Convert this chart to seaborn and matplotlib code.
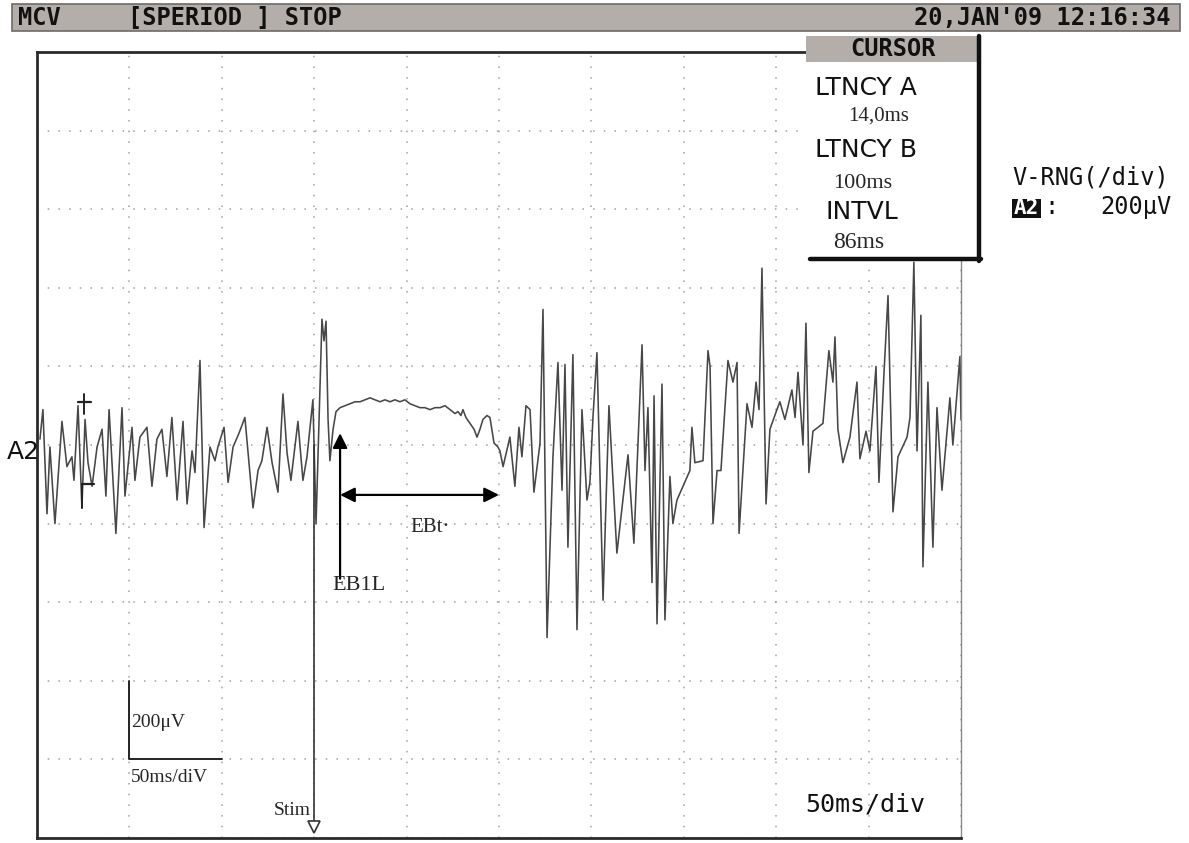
import numpy as np
import pandas as pd
import matplotlib
matplotlib.use("Agg")
import matplotlib.pyplot as plt
import seaborn as sns
from matplotlib.patches import Rectangle

# ---- Recording settings ----
sweep_ms = 500
ms_per_div = 50
uv_per_div = 200
stim_ms = 150
latency_a_ms = 14.0
latency_b_ms = 100
interval_ms = 86

# ---- A2 channel trace (ms, µV) ----
time_ms = [
    1.6, 3.2, 5.4, 7.0, 9.7, 13.5, 16.2, 18.9, 20.0, 22.2, 24.3, 26.0, 27.6, 29.8,
    32.5, 35.2, 37.3, 39.0, 42.7, 46.0, 47.6, 51.4, 53.0, 55.7, 59.5, 62.2, 64.9,
    67.6, 70.3, 73.0, 75.8, 79.0, 81.2, 83.9, 85.5, 88.2, 90.4, 93.6, 96.3, 97.9,
    101.2, 103.4, 106.1, 109.3, 112.5, 114.7, 116.9, 119.6, 121.7, 124.5, 127.2,
    130.4, 133.1, 135.3, 137.4, 141.2, 143.9, 146.1, 149.3, 151.0, 153.1, 154.2,
    155.3, 156.4, 157.5, 158.5, 160.2, 161.8,
    164.0, 166.7, 169.4, 172.1, 174.8, 177.5, 180.2, 182.9, 185.6, 188.3, 191.0,
    193.7, 196.4, 199.1, 201.8, 204.5, 207.2, 209.9, 212.7, 215.4, 218.1, 220.8,
    223.5, 226.2, 227.8, 229.4, 230.5, 232.1, 234.3, 236.5, 238.1, 239.7, 241.3,
    243.5, 245.1, 247.3, 249.4, 250.5,
    252.2, 255.9, 258.6, 260.8, 262.4, 264.6, 266.8, 268.9, 272.2, 273.8, 276.0,
    279.2, 281.9, 284.1, 285.7, 287.3, 290.0, 292.2, 294.9, 297.6, 299.2, 300.9,
    303.0, 306.3, 309.5, 313.8, 319.8, 323.0, 327.4, 329.0, 330.6, 332.8, 333.9,
    335.5, 338.2, 339.8, 342.5, 344.1, 346.3, 353.3, 354.4, 356.0, 360.4, 363.1,
    364.2, 365.8, 368.0, 370.1, 373.9, 376.6, 378.8, 379.9, 384.2, 386.9, 389.1,
    390.7, 392.3, 394.5, 396.6, 400.4, 402.0, 404.7, 408.5, 410.2, 411.8, 414.5,
    416.1, 417.7, 419.9, 425.3, 428.5, 430.7, 431.8, 433.4, 436.1, 439.9, 443.7,
    445.3, 448.6, 450.7, 454.0, 455.6, 458.3, 460.5, 463.2, 465.9, 470.8, 472.4,
    474.5, 476.2, 478.3, 479.4, 482.1, 484.8, 487.0, 489.7, 494.0, 495.6, 499.4,
    500.0,
]
amp_uv = [
    15, 90, -175, -5, -200, 60, -55, -30, -90, 100, -160, 65, -45, -105,
    -5, 40, -130, 90, -225, 95, -130, 45, -90, 20, 45, -105, 15,
    40, -80, 70, -140, 60, -150, -15, -70, 215, -210, -5, -40, -5,
    45, -95, -5, 30, 70, -45, -160, -65, -40, 45, -45,
    -120, 130, -20, -90, 60, -90, -30, 115, -200, 140, 320,
    265, 315, 65, -40, 40, 85,
    95, 100, 105, 110, 110, 115, 120, 115, 110, 115, 110,
    115, 110, 115, 105, 100, 95, 95, 90, 95, 95, 100,
    90, 80, 85, 75, 90, 70, 55, 40, 20, 40, 65,
    75, 70, 5, -5, -15,
    -55, 20, -105, 45, -30, 100, 90, -120, 5, 345, -490,
    -30, 210, -115, 205, -260, 230, -470, 90, -140, -95, 75,
    235, -395, 100, -275, -25, -250, 255, -65, 95, -350, 125,
    -455, 155, -445, -80, -200, -140, -65, 45, -45, -40, 240,
    200, -200, -65, -65, 215, 160, 210, -225, 105, 45, 160,
    90, 450, -150, 40, 90, 110, 65, 140, 70, 185, 0,
    310, -70, 35, 55, 240, 160, 275, 40, -45, 20, 160,
    -35, 35, -15, 200, -95, 180, 380, -170, -30, 20, 70,
    465, -15, 330, -310, 160, -260, 95, -115, 120, 0, 225,
    65,
]

# Cursor markers on the early part of the sweep
cursor_ms = 25
cursor_hi_uv = 110
cursor_lo_uv = -100

df = pd.DataFrame({"t": time_ms, "v": amp_uv})

sns.set_style("white")
plt.rcParams["font.family"] = ["DejaVu Sans"]

W, H = 1189, 843
fig = plt.figure(figsize=(W / 100, H / 100), dpi=100)
fig.patch.set_facecolor("white")

ax = fig.add_axes([37 / W, 5 / H, 924 / W, 786 / H])
sns.lineplot(data=df, x="t", y="v", ax=ax, color="#474747", lw=1.15,
             sort=False, estimator=None)

ax.set_xlim(0, sweep_ms)
ax.set_ylim(-5 * uv_per_div, 5 * uv_per_div)
ax.set_xticks(np.arange(0, sweep_ms + 1, ms_per_div))
ax.set_yticks(np.arange(-5 * uv_per_div, 5 * uv_per_div + 1, uv_per_div))
ax.grid(True, color="#a0a0a0", linestyle=(0, (1, 6)), lw=1.1)
ax.tick_params(length=0, labelbottom=False, labelleft=False)
ax.set_xlabel("")
ax.set_ylabel("")
for side in ("left", "top", "bottom"):
    ax.spines[side].set_color("#2a2a2a")
    ax.spines[side].set_linewidth(2.0)
ax.spines["right"].set_color("#8a8a8a")
ax.spines["right"].set_linewidth(1.0)

serif = ["Liberation Serif", "DejaVu Serif"]

# Cursor markers
ax.plot([cursor_ms - 3, cursor_ms + 4], [cursor_hi_uv, cursor_hi_uv], color="#222", lw=1.6)
ax.plot([cursor_ms + 0.4, cursor_ms + 0.4], [cursor_hi_uv - 30, cursor_hi_uv + 20], color="#222", lw=1.4)
ax.plot([cursor_ms - 0.7, cursor_ms + 6], [cursor_lo_uv, cursor_lo_uv], color="#222", lw=1.6)
ax.plot([cursor_ms - 0.7, cursor_ms - 0.7], [cursor_lo_uv, cursor_lo_uv - 60], color="#222", lw=1.4)

# Stimulus marker
ax.plot([stim_ms, stim_ms], [0, -955], color="#333", lw=1.2)
ax.plot([stim_ms], [-972], marker="v", ms=9, mfc="white", mec="#333", mew=1.2, clip_on=False)
ax.text(stim_ms - 2, -930, "Stim", family=serif, fontsize=14, ha="right", va="center")

# Onset latency (EB1L) and burst duration (EBt)
onset = stim_ms + latency_a_ms
offset = stim_ms + latency_b_ms
ax.annotate("", xy=(onset, 30), xytext=(onset, -340),
            arrowprops=dict(arrowstyle="-|>", color="black", lw=1.6,
                            mutation_scale=22, shrinkA=0, shrinkB=0))
ax.text(onset - 4, -357, "EB1L", family=serif, fontsize=16, ha="left", va="center")
ax.annotate("", xy=(offset, -127), xytext=(onset, -127),
            arrowprops=dict(arrowstyle="<|-|>", color="black", lw=1.6,
                            mutation_scale=22, shrinkA=0, shrinkB=0))
ax.text(onset + interval_ms * 0.44, -209, "EBt\u00b7", family=serif, fontsize=15,
        ha="left", va="center")

# Calibration bar
ax.plot([ms_per_div, ms_per_div, 2 * ms_per_div],
        [-4 * uv_per_div + uv_per_div, -4 * uv_per_div, -4 * uv_per_div],
        color="#222", lw=1.4)
ax.text(ms_per_div + 1, -705, "200\u03bcV", family=serif, fontsize=14, ha="left", va="center")
ax.text(ms_per_div + 1, -845, "50ms/diV", family=serif, fontsize=14, ha="left", va="center")

# ---- Instrument screen overlay (pixel layout) ----
ov = fig.add_axes([0, 0, 1, 1], zorder=5)
ov.set_xlim(0, W)
ov.set_ylim(H, 0)
ov.axis("off")
ov.patch.set_alpha(0)

mono = ["DejaVu Sans Mono"]
narrow = ["DejaVu Sans"]

# Status bar
ov.add_patch(Rectangle((12, 4), 1168, 27, fc="#b4aeab", ec="#6e6a68", lw=1.2))
ov.text(18, 18, "MCV", family=mono, fontsize=17, weight="bold", color="#111", va="center")
ov.text(128, 18, "[SPERIOD ] STOP", family=mono, fontsize=17, weight="bold", color="#111", va="center")
ov.text(1170, 18, "20,JAN'09 12:16:34", family=mono, fontsize=17, weight="bold",
        color="#111", va="center", ha="right")

# Cursor read-out box
ov.add_patch(Rectangle((806, 62), 174, 197, fc="white", ec="none"))
ov.add_patch(Rectangle((806, 36), 172, 26, fc="#b4aeab", ec="none"))
ov.text(893, 49, "CURSOR", family=mono, fontsize=17, weight="bold", color="#111",
        ha="center", va="center")
ov.plot([979, 979], [36, 261], color="#111", lw=3.2)
ov.plot([810, 981], [259, 259], color="#111", lw=3.2)
ov.text(815, 88, "LTNCY A", family=narrow, fontsize=18, ha="left", va="center", color="#111")
ov.text(848, 116, f"{latency_a_ms:.1f}ms".replace(".", ","), family=serif, fontsize=15,
        ha="left", va="center")
ov.text(815, 150, "LTNCY B", family=narrow, fontsize=18, ha="left", va="center", color="#111")
ov.text(833, 183, f"{latency_b_ms}ms", family=serif, fontsize=16, ha="left", va="center")
ov.text(825, 212, "INTVL", family=narrow, fontsize=18, ha="left", va="center", color="#111")
ov.text(833, 242, f"{interval_ms}ms", family=serif, fontsize=17, ha="left", va="center")

# Vertical range read-out
ov.text(1012, 177, "V-RNG(/div)", family=mono, fontsize=17, ha="left", va="center", color="#111")
ov.add_patch(Rectangle((1012, 199), 29, 19, fc="#111", ec="none"))
ov.text(1026, 208, "A2", family=mono, fontsize=15, weight="bold", color="white",
        ha="center", va="center")
ov.text(1044, 207, ":", family=mono, fontsize=17, ha="left", va="center", color="#111")
ov.text(1172, 207, f"{uv_per_div}\u00b5V", family=mono, fontsize=17, ha="right",
        va="center", color="#111")

# Channel label and time base
ov.text(7, 452, "A2", family=["DejaVu Sans"], fontsize=18, ha="left", va="center", color="#111")
ov.text(805, 805, f"{ms_per_div}ms/div", family=mono, fontsize=18, ha="left",
        va="center", color="#111")

fig.savefig("out.png", dpi=100)
